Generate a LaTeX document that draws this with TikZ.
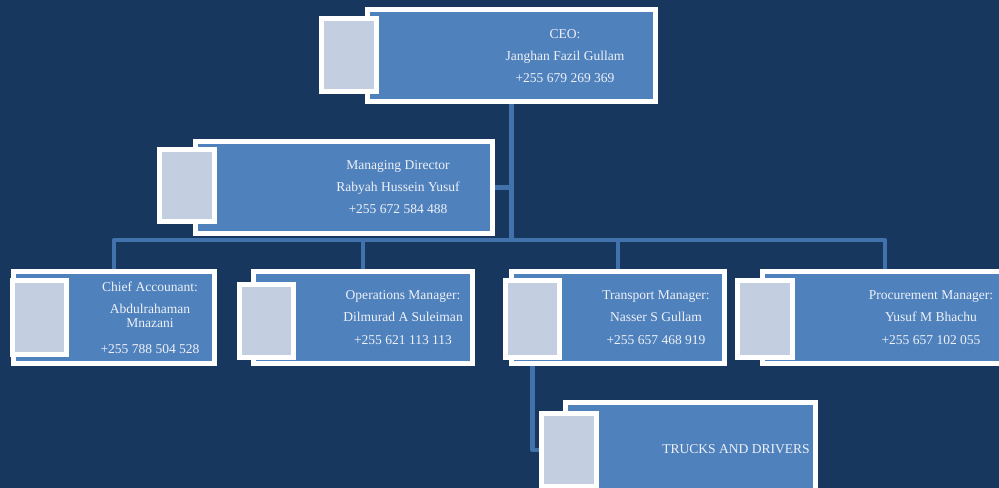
\documentclass[tikz,border=0pt]{standalone}
\usepackage{fontspec}
\setmainfont{Liberation Serif}
\definecolor{bgblue}{HTML}{17375E}
\definecolor{cardblue}{HTML}{4F81BD}
\definecolor{photoblue}{HTML}{C4CEE1}
\definecolor{wireblue}{HTML}{4272AC}
\definecolor{textwhite}{HTML}{EEF1F7}
\pgfdeclarelayer{back}
\pgfdeclarelayer{wires}
\pgfsetlayers{back,wires,main}
\begin{document}
\begin{tikzpicture}[
  card/.style={rectangle, draw=white, line width=1mm, fill=cardblue, inner sep=0pt},
  photo/.style={rectangle, draw=white, line width=1mm, fill=photoblue, inner sep=0pt,
    minimum width=1.1cm},
  info/.style={text=textwhite, align=center, inner sep=0pt,
    font=\fontsize{7.7}{7.7}\selectfont},
  link/.style={draw=wireblue, line width=0.9mm, line join=round}]

\clip (0,0) rectangle (19.98,-9.76);
\begin{pgfonlayer}{back}
\fill[bgblue] (0,0) rectangle (19.98,-9.76);
\end{pgfonlayer}

% top
\node[card, minimum width=5.76cm, minimum height=1.84cm] (ceo) at (10.23,-1.11) {};
\node[photo, minimum height=1.46cm] (ceophoto) at (6.98,-1.10) {};
\node[info] (ceotext) at (11.30,-1.12) {CEO:\\[4.9pt]Janghan Fazil Gullam\\[4.9pt]+255 679 269 369};

\node[card, minimum width=5.94cm, minimum height=1.84cm] (md) at (6.88,-3.75) {};
\node[photo, minimum height=1.44cm] (mdphoto) at (3.74,-3.71) {};
\node[info] (mdtext) at (7.96,-3.74) {Managing Director\\[4.9pt]Rabyah Hussein Yusuf\\[4.9pt]+255 672 584 488};

% managers
\node[card, minimum width=4.02cm, minimum height=1.84cm] (ca) at (2.28,-6.35) {};
\node[photo, minimum width=1.08cm, minimum height=1.48cm] (caphoto) at (0.79,-6.35) {};
\node[info] (catext) at (3.00,-6.36) {Chief Accounant:\\[4.9pt]Abdulrahaman\\Mnazani\\[7.2pt]+255 788 504 528};

\node[card, minimum width=4.38cm, minimum height=1.84cm] (om) at (7.26,-6.35) {};
\node[photo, minimum width=1.08cm, minimum height=1.46cm] (omphoto) at (5.33,-6.42) {};
\node[info] (omtext) at (8.06,-6.35) {Operations Manager:\\[4.9pt]Dilmurad A Suleiman\\[4.9pt]+255 621 113 113};

\node[card, minimum width=4.26cm, minimum height=1.84cm] (tm) at (12.36,-6.35) {};
\node[photo, minimum width=1.08cm, minimum height=1.54cm] (tmphoto) at (10.65,-6.38) {};
\node[info] (tmtext) at (13.12,-6.35) {Transport Manager:\\[4.9pt]Nasser S Gullam\\[4.9pt]+255 657 468 919};

\node[card, minimum width=4.9cm, minimum height=1.84cm] (pm) at (17.70,-6.35) {};
\node[photo, minimum height=1.54cm] (pmphoto) at (15.30,-6.38) {};
\node[info] (pmtext) at (18.62,-6.35) {Procurement Manager:\\[4.9pt]Yusuf M Bhachu\\[4.9pt]+255 657 102 055};

% trucks
\node[card, minimum width=5.0cm, minimum height=1.84cm] (trk) at (13.81,-8.97) {};
\node[photo, minimum height=1.46cm] (trkphoto) at (11.38,-9.00) {};
\node[info] (trktext) at (14.72,-8.98) {TRUCKS AND DRIVERS};

\coordinate (bus) at (ceo.south |- 0,-4.80);
\begin{pgfonlayer}{wires}
\draw[link] (ceo.south) -- (bus);
\draw[link] (md.east) -| (bus);
\draw[link] (ca.north) |- (bus);
\draw[link] (om.north) |- (bus);
\draw[link] (tm.north) |- (bus);
\draw[link] (pm.north) |- (bus);
\draw[link] (tmphoto.south) |- (trkphoto.west);
\end{pgfonlayer}

\end{tikzpicture}
\end{document}
